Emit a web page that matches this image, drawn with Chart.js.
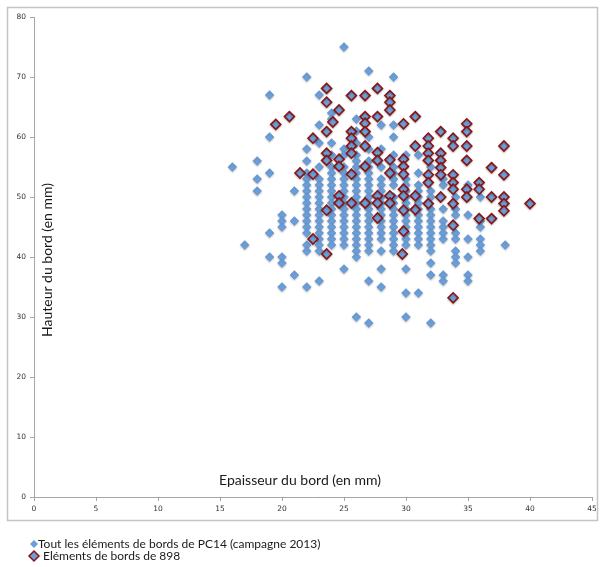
<!DOCTYPE html>
<html>
<head>
<meta charset="utf-8">
<script src="https://cdn.jsdelivr.net/npm/chart.js@4/dist/chart.umd.min.js"></script>
<style>
  html, body { margin: 0; padding: 0; background: #fff; }
  #chart { display: block; }
</style>
</head>
<body>
<canvas id="chart" width="603" height="567"></canvas>
<script>
// tick values
const xTicks = [0, 5, 10, 15, 20, 25, 30, 35, 40, 45];
const yTicks = [0, 10, 20, 30, 40, 50, 60, 70, 80];

// series labels
const seriesNames = [
  'Tout les éléments de bords de PC14 (campagne 2013)',
  'Eléments de bords de 898'
];

// PC14 : [epaisseur, hauteur]
const pc14 = [
  [16, 55], [17, 42],
  [18, 56], [18, 53], [18, 51],
  [19, 67], [19, 60], [19, 54], [19, 44], [19, 40],
  [20, 47], [20, 46], [20, 45], [20, 40], [20, 39], [20, 35],
  [21, 51], [21, 46], [21, 37],
  [22, 70], [22, 58], [22, 56], [22, 54], [22, 53], [22, 52], [22, 51], [22, 50], [22, 49],
  [22, 48], [22, 47], [22, 46], [22, 45], [22, 44], [22, 42], [22, 41], [22, 35],
  [23, 67], [23, 62], [23, 59], [23, 55], [23, 53], [23, 52], [23, 51], [23, 50], [23, 49],
  [23, 48], [23, 47], [23, 46], [23, 45], [23, 44], [23, 43], [23, 42], [23, 41], [23, 36],
  [24, 64], [24, 63], [24, 59], [24, 57], [24, 55], [24, 54], [24, 53], [24, 52], [24, 51],
  [24, 50], [24, 49], [24, 48], [24, 47], [24, 46], [24, 45], [24, 44], [24, 43], [24, 42],
  [25, 75], [25, 58], [25, 57], [25, 55], [25, 54], [25, 53], [25, 52], [25, 51], [25, 50],
  [25, 49], [25, 48], [25, 47], [25, 46], [25, 45], [25, 44], [25, 43], [25, 42], [25, 38],
  [26, 63], [26, 61], [26, 59], [26, 57], [26, 56], [26, 55], [26, 54], [26, 53], [26, 52],
  [26, 51], [26, 50], [26, 49], [26, 48], [26, 47], [26, 46], [26, 45], [26, 44], [26, 43],
  [26, 42], [26, 41], [26, 40], [26, 30],
  [27, 71], [27, 60], [27, 58], [27, 56], [27, 55], [27, 54], [27, 53], [27, 52], [27, 51],
  [27, 50], [27, 49], [27, 48], [27, 47], [27, 46], [27, 45], [27, 44], [27, 43], [27, 42],
  [27, 41], [27, 36], [27, 29],
  [28, 62], [28, 58], [28, 55], [28, 53], [28, 52], [28, 51], [28, 50], [28, 49], [28, 48],
  [28, 47], [28, 46], [28, 45], [28, 44], [28, 43], [28, 41], [28, 38], [28, 35],
  [29, 70], [29, 62], [29, 60], [29, 57], [29, 55], [29, 54], [29, 53], [29, 52], [29, 50],
  [29, 49], [29, 48], [29, 47], [29, 46], [29, 45], [29, 44], [29, 43], [29, 42], [29, 41],
  [30, 57], [30, 53], [30, 52], [30, 51], [30, 50], [30, 49], [30, 48], [30, 47], [30, 46],
  [30, 45], [30, 44], [30, 43], [30, 42], [30, 38], [30, 34], [30, 30],
  [31, 57], [31, 54], [31, 52], [31, 51], [31, 50], [31, 49], [31, 48], [31, 47], [31, 46],
  [31, 45], [31, 44], [31, 43], [31, 42], [31, 34],
  [32, 55], [32, 51], [32, 50], [32, 48], [32, 47], [32, 46], [32, 45], [32, 44], [32, 43],
  [32, 42], [32, 41], [32, 39], [32, 37], [32, 29],
  [33, 53], [33, 52], [33, 48], [33, 46], [33, 45], [33, 44], [33, 43], [33, 37], [33, 36],
  [34, 50], [34, 48], [34, 47], [34, 44], [34, 43], [34, 41], [34, 40], [34, 39],
  [35, 52], [35, 50], [35, 47], [35, 43], [35, 40], [35, 37], [35, 36],
  [36, 50], [36, 46], [36, 45], [36, 43], [36, 42], [36, 41],
  [38, 42]
];

// 898 : [epaisseur, hauteur]
const pc898 = [
  [19.5, 62.1], [20.6, 63.4],
  [21.45, 54],
  [22.5, 59.8], [22.5, 53.8], [22.5, 43],
  [23.6, 68.1], [23.6, 65.8], [23.6, 60.9], [23.6, 57.3], [23.6, 56.1], [23.6, 47.8], [23.6, 40.5],
  [24.1, 62.5], [24.6, 64.5], [24.6, 56.3], [24.6, 55.1], [24.6, 50.2], [24.6, 49],
  [25.6, 66.9], [25.6, 60.9], [25.6, 59.8], [25.6, 58.5], [25.6, 57.3], [25.6, 53.8], [25.6, 49],
  [26.7, 66.9], [26.7, 63.4], [26.7, 62.3], [26.7, 60.9], [26.7, 58.5], [26.7, 55.1], [26.7, 49],
  [27.7, 68.1], [27.7, 63.4], [27.7, 57.4], [27.7, 56.1], [27.7, 50.2], [27.7, 49], [27.7, 46.5],
  [28.7, 66.9], [28.7, 65.8], [28.7, 64.5], [28.7, 56.2], [28.7, 54], [28.7, 50.2], [28.7, 49],
  [29.8, 62.2], [29.8, 56.3], [29.8, 55.1], [29.8, 53.8], [29.8, 51.3], [29.8, 50.2], [29.8, 47.8],
  [29.8, 44.3], [29.7, 40.5],
  [30.75, 63.4], [30.75, 58.5], [30.75, 50.2], [30.75, 47.9],
  [31.8, 59.8], [31.8, 58.5], [31.8, 57.3], [31.8, 56.1], [31.8, 53.7], [31.8, 52.4], [31.8, 48.9],
  [32.8, 60.9], [32.8, 57.3], [32.8, 56.1], [32.8, 54.9], [32.8, 53.7], [32.8, 50],
  [33.8, 59.8], [33.8, 58.5], [33.8, 53.7], [33.8, 52.4], [33.8, 51.3], [33.8, 48.9], [33.8, 45.3],
  [33.8, 33.2],
  [34.9, 62.2], [34.9, 60.9], [34.9, 58.5], [34.9, 56.1], [34.9, 51.3], [34.9, 50],
  [35.9, 52.4], [35.9, 51.3], [35.9, 46.4],
  [36.9, 54.9], [36.9, 50], [36.9, 46.4],
  [37.9, 58.5], [37.9, 53.7], [37.9, 50], [37.9, 48.9], [37.9, 47.7],
  [40, 48.9]
];

const blueFill = '#6c9fd9';
const redEdge = '#8a1414';
const axisGrey = '#a6a6a6';

// grey frame around the plot
const framePlugin = {
  id: 'frame',
  beforeDraw(chart) {
    const { ctx } = chart;
    ctx.save();
    ctx.fillStyle = '#fff';
    ctx.fillRect(0, 0, chart.width, chart.height);
    ctx.strokeStyle = '#c4c4c4';
    ctx.lineWidth = 1.5;
    ctx.strokeRect(7.5, 7.5, 590, 513);
    ctx.restore();
  },
  beforeDatasetsDraw(chart) {
    const { ctx } = chart;
    ctx.save();
    ctx.shadowColor = 'rgba(0,0,0,0.25)';
    ctx.shadowBlur = 2;
    ctx.shadowOffsetY = 1;
  },
  afterDatasetsDraw(chart) {
    chart.ctx.restore();
  }
};

// axis titles inside the plot, and the legend under the frame
const textPlugin = {
  id: 'texts',
  afterDraw(chart) {
    const { ctx } = chart;
    ctx.save();
    ctx.fillStyle = '#1a1a1a';
    ctx.font = '14px Lato';
    ctx.textAlign = 'center';
    ctx.textBaseline = 'middle';
    ctx.fillText('Epaisseur du bord (en mm)', 300, 480);

    ctx.translate(47, 260);
    ctx.rotate(-Math.PI / 2);
    ctx.fillText('Hauteur du bord (en mm)', 0, 0);
    ctx.restore();

    // legend
    ctx.save();
    ctx.font = '12px Lato';
    ctx.textAlign = 'left';
    ctx.textBaseline = 'middle';
    ctx.fillStyle = '#1a1a1a';

    // blue marker
    ctx.beginPath();
    ctx.moveTo(34, 540); ctx.lineTo(38, 544); ctx.lineTo(34, 548); ctx.lineTo(30, 544);
    ctx.closePath();
    ctx.fillStyle = blueFill;
    ctx.fill();
    ctx.fillStyle = '#1a1a1a';
    ctx.fillText(seriesNames[0], 38, 544);

    // red-edged marker
    ctx.beginPath();
    ctx.moveTo(34, 551); ctx.lineTo(39, 556); ctx.lineTo(34, 561); ctx.lineTo(29, 556);
    ctx.closePath();
    ctx.fillStyle = blueFill;
    ctx.fill();
    ctx.strokeStyle = redEdge;
    ctx.lineWidth = 1.5;
    ctx.stroke();
    ctx.fillStyle = '#1a1a1a';
    ctx.fillText(seriesNames[1], 43, 556);
    ctx.restore();
  }
};

const ctx = document.getElementById('chart');

new Chart(ctx, {
  type: 'scatter',
  data: {
    datasets: [
      {
        label: seriesNames[0],
        data: pc14.map(p => ({ x: p[0], y: p[1] })),
        pointStyle: 'rectRot',
        pointRadius: 4.4,
        pointHoverRadius: 4.4,
        backgroundColor: blueFill,
        borderColor: '#5a8fcf',
        borderWidth: 0.5,
        order: 2
      },
      {
        label: seriesNames[1],
        data: pc898.map(p => ({ x: p[0], y: p[1] })),
        pointStyle: 'rectRot',
        pointRadius: 5,
        pointHoverRadius: 5,
        backgroundColor: blueFill,
        borderColor: redEdge,
        borderWidth: 1.6,
        order: 1
      }
    ]
  },
  options: {
    responsive: false,
    animation: false,
    events: [],
    layout: { padding: { left: 0, top: 17, right: 11, bottom: 0 } },
    plugins: {
      legend: { display: false },
      tooltip: { enabled: false }
    },
    scales: {
      x: {
        type: 'linear',
        min: 0,
        max: 45,
        afterFit(scale) { scale.height = 70; },
        afterBuildTicks(scale) { scale.ticks = xTicks.map(v => ({ value: v })); },
        grid: { drawOnChartArea: false, drawTicks: true, tickLength: 4, color: axisGrey },
        border: { color: axisGrey, width: 1 },
        ticks: {
          padding: 4,
          color: '#333',
          font: { family: 'DejaVu Sans', size: 7.5 }
        }
      },
      y: {
        type: 'linear',
        min: 0,
        max: 80,
        afterFit(scale) { scale.width = 34; },
        afterBuildTicks(scale) { scale.ticks = yTicks.map(v => ({ value: v })); },
        grid: { drawOnChartArea: false, drawTicks: true, tickLength: 4, color: axisGrey },
        border: { color: axisGrey, width: 1 },
        ticks: {
          padding: 4,
          color: '#333',
          font: { family: 'DejaVu Sans', size: 7.5 }
        }
      }
    }
  },
  plugins: [framePlugin, textPlugin]
});
</script>
</body>
</html>
